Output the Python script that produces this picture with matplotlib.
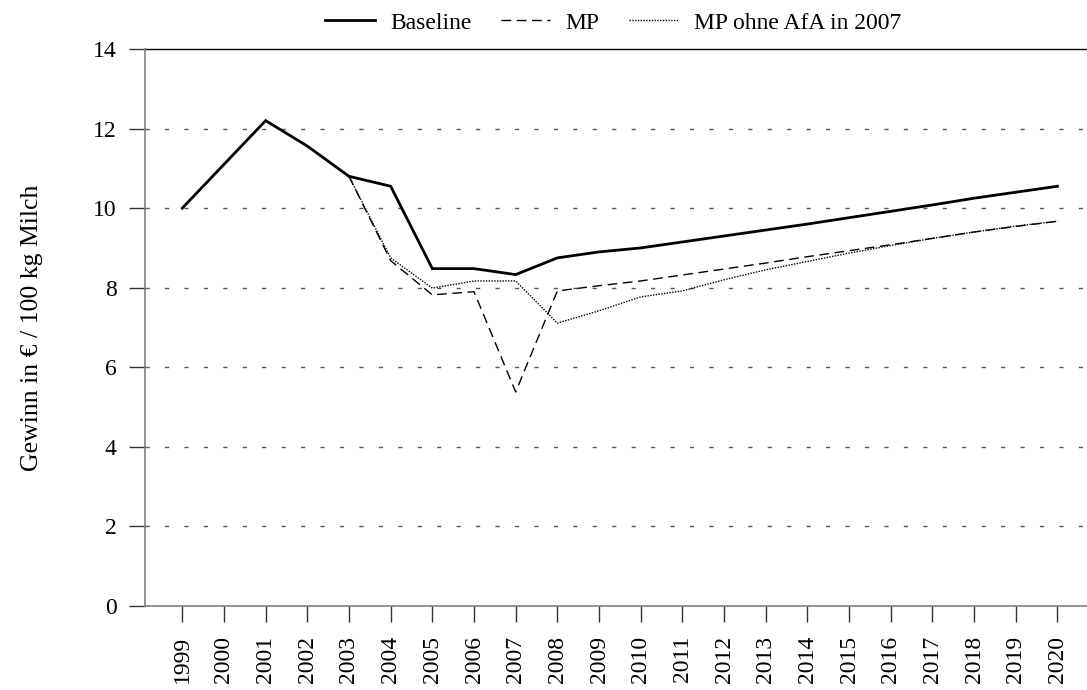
import matplotlib.pyplot as plt
import numpy as np

plt.rcParams['font.family'] = ['Liberation Serif', 'DejaVu Serif']

years = list(range(1999, 2021))
baseline = [10.0, 11.1, 12.2, 11.56, 10.8, 10.55, 8.48, 8.48, 8.33, 8.75, 8.9, 9.0,
            9.15, 9.3, 9.45, 9.6, 9.76, 9.92, 10.08, 10.25, 10.4, 10.55]
mp_years = list(range(2003, 2021))
mp = [10.8, 8.68, 7.82, 7.9, 5.38, 7.92, 8.05, 8.17, 8.32, 8.47, 8.62, 8.78,
      8.93, 9.08, 9.24, 9.4, 9.54, 9.67]
mp_ohne = [10.8, 8.75, 7.99, 8.17, 8.17, 7.11, 7.42, 7.77, 7.92, 8.2, 8.45, 8.66,
           8.87, 9.06, 9.24, 9.4, 9.55, 9.67]

fig = plt.figure(figsize=(10.87, 6.9), dpi=100)
ax = fig.add_axes([0.1334, 0.1217, 0.8666, 0.8073])

for v in range(2, 14, 2):
    ax.axhline(v, color='#555555', lw=1.0, ls=(0, (3, 11)), zorder=1)
ax.axhline(14, color='black', lw=1.0, zorder=1, clip_on=False)

ax.plot(years, baseline, color='black', lw=2.0, solid_joinstyle='miter', label='Baseline', zorder=3)
ax.plot(mp_years, mp, color='black', lw=1.0, ls=(0, (7, 4)), label='MP', zorder=2)
ax.plot(mp_years, mp_ohne, color='black', lw=1.0, ls=(0, (1, 1)), label='MP ohne AfA in 2007', zorder=2)

ax.set_xlim(1999 - 0.895, 2020 + 0.71)
ax.set_ylim(0, 14)
ax.set_yticks(range(0, 15, 2))
ax.set_xticks(years)
ax.set_xticklabels([str(y) for y in years], rotation=90)
ax.tick_params(axis='both', labelsize=17, length=11.5, width=1, color='#333333', direction='out')
ax.tick_params(axis='y', pad=9)
ax.tick_params(axis='x', pad=10)

for s in ['top', 'right']:
    ax.spines[s].set_visible(False)
for s in ['left', 'bottom']:
    ax.spines[s].set_color('#808080')
    ax.spines[s].set_linewidth(1.2)

ax.set_ylabel('Gewinn in € / 100 kg Milch', fontsize=18.5, labelpad=36)

leg = ax.legend(loc='lower center', bbox_to_anchor=(0.497, 1.0), ncol=3, frameon=False,
                fontsize=17, handlelength=2.1, columnspacing=1.25, handletextpad=0.65,
                borderaxespad=0.25)

fig.savefig('out.png', dpi=100)
